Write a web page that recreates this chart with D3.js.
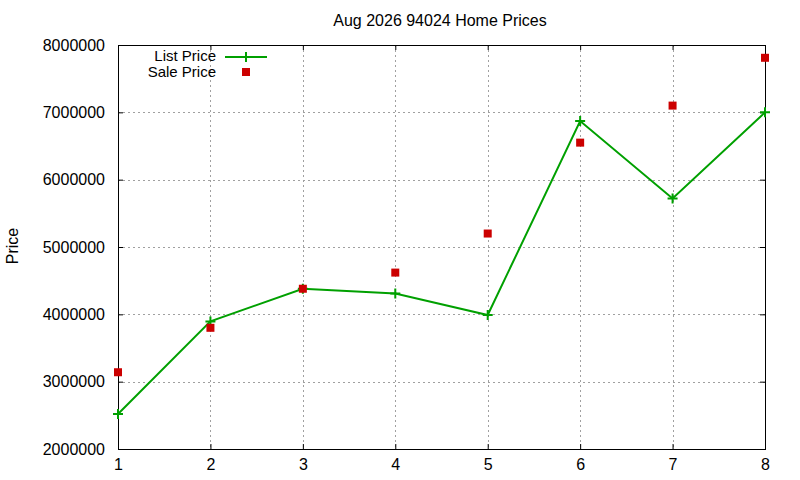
<!DOCTYPE html>
<html>
<head>
<meta charset="utf-8">
<script src="https://cdn.jsdelivr.net/npm/d3@7"></script>
<style>
  body { margin: 0; background: #fff; }
  svg text { font-family: "Liberation Sans", Arial, sans-serif; fill: #000; }
  .grid line { stroke: #a0a0a0; stroke-dasharray: 2,3; }
</style>
</head>
<body>
<svg id="chart" width="800" height="480"></svg>
<script>
// chart data
var months = [1, 2, 3, 4, 5, 6, 7, 8];
var listPrice = [2520000, 3895000, 4380000, 4310000, 3990000, 6870000, 5720000, 7000000];
var salePrice = [3140000, 3800000, 4380000, 4620000, 5200000, 6550000, 7100000, 7810000];
var yTicks = [2000000, 3000000, 4000000, 5000000, 6000000, 7000000, 8000000];

var margin = { top: 45, right: 35, bottom: 31, left: 118 };
var width = 800 - margin.left - margin.right;
var height = 480 - margin.top - margin.bottom;

var svg = d3.select('#chart');

var x = d3.scaleLinear().domain([1, 8]).range([0, width]);
var y = d3.scaleLinear().domain([2000000, 8000000]).range([height, 0]);

var g = svg.append('g')
  .attr('transform', 'translate(' + margin.left + ',' + margin.top + ')');

/* grid */
var grid = g.append('g').attr('class', 'grid');
grid.selectAll('.gx')
  .data(months.slice(1, -1))
  .enter().append('line')
    .attr('x1', function(d) { return Math.round(x(d)) + 0.5; })
    .attr('x2', function(d) { return Math.round(x(d)) + 0.5; })
    .attr('y1', 0).attr('y2', height);
grid.selectAll('.gy')
  .data(yTicks.slice(1, -1))
  .enter().append('line')
    .attr('y1', function(d) { return Math.round(y(d)) + 0.5; })
    .attr('y2', function(d) { return Math.round(y(d)) + 0.5; })
    .attr('x1', 0).attr('x2', width);

/* axes, ticks inward and mirrored like gnuplot */
function styleAxis(sel) {
  sel.select('.domain').remove();
  sel.selectAll('.tick line').attr('stroke', '#000');
  sel.selectAll('.tick text')
    .style('font-size', '16px')
    .style('font-family', '"Liberation Sans", Arial, sans-serif');
}

g.append('g')
  .attr('transform', 'translate(0,' + height + ')')
  .call(d3.axisBottom(x).tickValues(months).tickFormat(d3.format('d'))
    .tickSizeInner(-5).tickSizeOuter(0).tickPadding(10))
  .call(styleAxis);

g.append('g')
  .call(d3.axisTop(x).tickValues(months).tickFormat('')
    .tickSizeInner(-5).tickSizeOuter(0))
  .call(styleAxis);

g.append('g')
  .call(d3.axisLeft(y).tickValues(yTicks).tickFormat(d3.format('d'))
    .tickSizeInner(-5).tickSizeOuter(0).tickPadding(13))
  .call(styleAxis);

g.append('g')
  .attr('transform', 'translate(' + width + ',0)')
  .call(d3.axisRight(y).tickValues(yTicks).tickFormat('')
    .tickSizeInner(-5).tickSizeOuter(0))
  .call(styleAxis);

/* border */
g.append('rect')
  .attr('x', 0.5).attr('y', 0.5)
  .attr('width', width).attr('height', height)
  .attr('fill', 'none')
  .attr('stroke', '#000');

/* list price line */
var line = d3.line()
  .x(function(d, i) { return x(months[i]); })
  .y(function(d) { return y(d); });

g.append('path')
  .datum(listPrice)
  .attr('fill', 'none')
  .attr('stroke', '#00a000')
  .attr('stroke-width', 2)
  .attr('d', line);

function plus(sel, size) {
  sel.append('path')
    .attr('d', 'M' + (-size) + ',0H' + size + 'M0,' + (-size) + 'V' + size)
    .attr('stroke', '#00a000')
    .attr('stroke-width', 2)
    .attr('fill', 'none');
}

g.selectAll('.lp')
  .data(listPrice)
  .enter().append('g')
    .attr('transform', function(d, i) {
      return 'translate(' + x(months[i]) + ',' + y(d) + ')';
    })
    .call(plus, 5);

/* sale price points */
g.selectAll('.sp')
  .data(salePrice)
  .enter().append('rect')
    .attr('x', function(d, i) { return x(months[i]) - 4; })
    .attr('y', function(d) { return y(d) - 4; })
    .attr('width', 8).attr('height', 8)
    .attr('fill', '#cc0000');

/* title and axis label */
svg.append('text')
  .attr('x', 440).attr('y', 26)
  .attr('text-anchor', 'middle')
  .style('font-size', '16px')
  .text('Aug 2026 94024 Home Prices');

svg.append('text')
  .attr('transform', 'translate(18,246) rotate(-90)')
  .attr('text-anchor', 'middle')
  .style('font-size', '16px')
  .text('Price');

/* legend */
var legend = svg.append('g');
legend.append('text')
  .attr('x', 216).attr('y', 61)
  .attr('text-anchor', 'end')
  .style('font-size', '15px')
  .text('List Price');
legend.append('line')
  .attr('x1', 225).attr('x2', 267)
  .attr('y1', 57).attr('y2', 57)
  .attr('stroke', '#00a000').attr('stroke-width', 2);
legend.append('g')
  .attr('transform', 'translate(246,57)')
  .call(plus, 5);
legend.append('text')
  .attr('x', 216).attr('y', 77)
  .attr('text-anchor', 'end')
  .style('font-size', '15px')
  .text('Sale Price');
legend.append('rect')
  .attr('x', 242).attr('y', 68)
  .attr('width', 8).attr('height', 8)
  .attr('fill', '#cc0000');
</script>
</body>
</html>
